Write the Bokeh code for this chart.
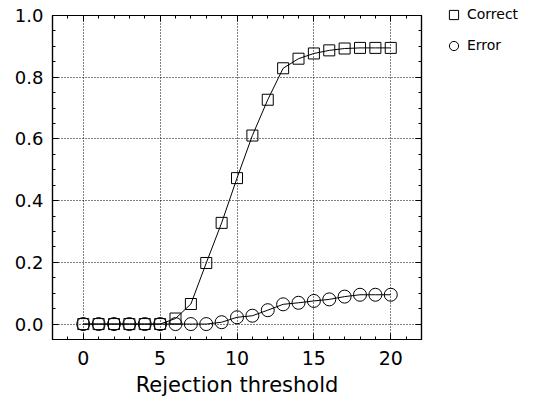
from bokeh.plotting import figure
from bokeh.layouts import row, column
from bokeh.models import (LinearAxis, FixedTicker, Range1d, Legend, LegendItem,
                          NumeralTickFormatter, CustomJSTickFormatter, Grid)
from bokeh.embed import file_html
from bokeh.resources import INLINE

# ---- data ----
threshold = list(range(0, 21))
correct = [0, 0, 0, 0, 0, 0, 0.018, 0.065, 0.198, 0.328, 0.473, 0.611, 0.727,
           0.829, 0.860, 0.877, 0.887, 0.893, 0.895, 0.895, 0.895]
error = [0, 0, 0, 0, 0, 0, 0, 0, 0, 0.006, 0.022, 0.027, 0.045,
         0.064, 0.069, 0.075, 0.080, 0.089, 0.095, 0.095, 0.095]
x_ticks = [0, 5, 10, 15, 20]
x_minor = list(range(-2, 23))
y_ticks = [0.0, 0.2, 0.4, 0.6, 0.8, 1.0]
y_minor = [round(-0.05 + 0.05 * i, 2) for i in range(22)]
x_title = "Rejection threshold"
labels = ["Correct", "Error"]

FONT = "DejaVu Sans"

p = figure(width=446, height=406, output_backend="svg", toolbar_location=None,
           x_range=Range1d(-2, 22), y_range=Range1d(-0.05, 1.0),
           x_axis_type=None, y_axis_type=None)
p.min_border_left = 52
p.min_border_right = 25
p.min_border_top = 15
p.min_border_bottom = 67
p.outline_line_color = "black"
p.outline_line_width = 1.2
p.background_fill_color = "white"
p.border_fill_color = "white"

def mk_axis():
    return dict(major_tick_in=6, major_tick_out=0, minor_tick_in=3, minor_tick_out=0,
                axis_line_color="black", axis_line_width=1.2,
                major_tick_line_color="black", minor_tick_line_color="black",
                major_label_text_font=FONT, major_label_text_color="black",
                major_label_text_font_size="18px")

xt = FixedTicker(ticks=x_ticks, minor_ticks=x_minor)
yt = FixedTicker(ticks=y_ticks, minor_ticks=y_minor)

xb = LinearAxis(ticker=xt, axis_label=x_title, **mk_axis())
xb.major_label_standoff = 11
xb.axis_label_standoff = 5
xb.axis_label_text_font = FONT
xb.axis_label_text_font_style = "normal"
xb.axis_label_text_font_size = "21px"
xb.axis_label_text_color = "black"
xb.major_label_text_font_size = "19px"
p.add_layout(xb, "below")

yl = LinearAxis(ticker=yt, formatter=NumeralTickFormatter(format="0.0"), **mk_axis())
yl.major_label_standoff = 9
p.add_layout(yl, "left")

blank = CustomJSTickFormatter(code="return ''")
xa = LinearAxis(ticker=xt, formatter=blank, **mk_axis())
xa.major_label_standoff = 0
p.add_layout(xa, "above")
yr = LinearAxis(ticker=yt, formatter=blank, **mk_axis())
yr.major_label_standoff = 0
p.add_layout(yr, "right")

p.xgrid.visible = False
p.ygrid.visible = False
p.add_layout(Grid(dimension=0, ticker=xt, grid_line_color="black",
                  grid_line_dash="1 2", grid_line_width=1))
p.add_layout(Grid(dimension=1, ticker=yt, grid_line_color="black",
                  grid_line_dash="1 2", grid_line_width=1))

p.line(threshold, correct, line_color="black", line_width=1)
p.line(threshold, error, line_color="black", line_width=1)
p.scatter(threshold, correct, marker="square", size=11, fill_alpha=0,
          line_color="black", line_width=1)
p.scatter(threshold, error, marker="circle", size=13, fill_alpha=0,
          line_color="black", line_width=1)

# legend panel on the right (outside the plot frame)
p2 = figure(width=93, height=406, output_backend="svg", toolbar_location=None,
            x_axis_type=None, y_axis_type=None,
            x_range=Range1d(0, 1), y_range=Range1d(0, 1))
p2.min_border = 0
p2.min_border_top = 0
p2.outline_line_color = None
p2.xgrid.visible = False
p2.ygrid.visible = False
# key renderers sit outside the visible range; only their legend glyphs show
lc = p2.scatter([-5], [-5], marker="square", fill_alpha=0, line_color="black")
le = p2.scatter([-5], [-5], marker="circle", fill_alpha=0, line_color="black")
legend = Legend(items=[LegendItem(label=labels[0], renderers=[lc]),
                       LegendItem(label=labels[1], renderers=[le])],
                location=(-4, 349.5), padding=0, margin=0, spacing=8,
                glyph_width=23, glyph_height=23, label_height=23,
                label_standoff=2, label_text_font=FONT,
                label_text_font_size="14px", label_text_color="black",
                border_line_alpha=0, background_fill_alpha=0)
p2.add_layout(legend, "center")

layout = row(p, column(p2), spacing=0)
open("out.html", "w").write(file_html(layout, INLINE))
